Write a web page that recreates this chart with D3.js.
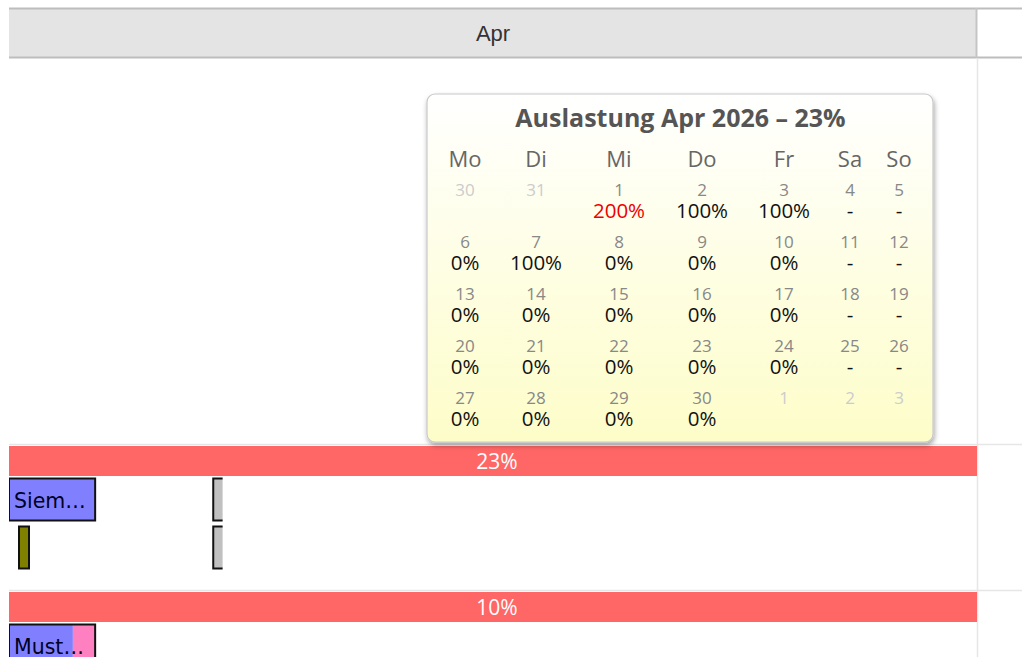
<!DOCTYPE html>
<html><head><meta charset="utf-8">
<script src="https://cdn.jsdelivr.net/npm/d3@7"></script>
<style>html,body{margin:0;padding:0;background:#fff;overflow:hidden}</style>
</head><body>
<script>
// ---------- data ----------
const months = ["Apr"];
const monthStart = [0];
const monthEnd = [30];

const groupNames = ["Siemens", "Mustermann"];
const groupLoad = [23, 10];

const taskGroup = [0, 0, 0, 0, 1, 1];
const taskLane  = [0, 1, 0, 1, 0, 0];
const taskStart = [0, 0.31, 6.33, 6.33, 0, 1.98];
const taskEnd   = [2.67, 0.62, 6.62, 6.62, 1.98, 2.67];
const taskColor = ["#8080ff", "#808000", "#c0c0c0", "#c0c0c0", "#8080ff", "#ff80c0"];
const taskLabel = ["Siem…", "", "", "", "Must…", ""];

const calTitle = "Auslastung Apr 2026 – 23%";
const weekdays = ["Mo", "Di", "Mi", "Do", "Fr", "Sa", "So"];
const calDayNums = [30,31,1,2,3,4,5, 6,7,8,9,10,11,12, 13,14,15,16,17,18,19, 20,21,22,23,24,25,26, 27,28,29,30,1,2,3];
const calInMonth = [0,0,1,1,1,1,1, 1,1,1,1,1,1,1, 1,1,1,1,1,1,1, 1,1,1,1,1,1,1, 1,1,1,1,0,0,0];
const calLoad = [null,null,200,100,100,"-","-", 0,100,0,0,0,"-","-", 0,0,0,0,0,"-","-", 0,0,0,0,0,"-","-", 0,0,0,0,null,null,null];

// ---------- layout ----------
const W = 1022, H = 657;
const svg = d3.select("body").append("svg").attr("width", W).attr("height", H);
const x = d3.scaleLinear().domain([0, 30]).range([9, 977]);
const groupY = d3.scaleLinear().domain([0, 1]).range([446, 592]);
const laneY = d3.scaleLinear().domain([0, 1]).range([32.5, 80.5]);

const defs = svg.append("defs");
defs.append("clipPath").attr("id", "chartClip").append("rect")
  .attr("x", 9).attr("y", 0).attr("width", 968).attr("height", H);

// header
svg.append("rect").attr("x", 9).attr("y", 8).attr("width", 967).attr("height", 49).attr("fill", "#e4e4e4");
svg.append("line").attr("x1", 9).attr("x2", W).attr("y1", 8.5).attr("y2", 8.5).attr("stroke", "#bdbdbd").attr("stroke-width", 2);
svg.append("line").attr("x1", 9).attr("x2", W).attr("y1", 57.5).attr("y2", 57.5).attr("stroke", "#bdbdbd").attr("stroke-width", 2);
svg.append("line").attr("x1", 976.5).attr("x2", 976.5).attr("y1", 8).attr("y2", 58).attr("stroke", "#c4c4c4").attr("stroke-width", 2);
svg.append("line").attr("x1", 977.5).attr("x2", 977.5).attr("y1", 58).attr("y2", H).attr("stroke", "#e6e6e6").attr("stroke-width", 1.5);

const hdr = svg.append("g").attr("clip-path", "url(#chartClip)");
hdr.selectAll("text.month").data(months).join("text")
  .attr("x", (d, i) => (x(monthStart[i]) + x(monthEnd[i])) / 2)
  .attr("y", 41)
  .attr("text-anchor", "middle")
  .attr("font-family", "'Liberation Sans Narrow','Liberation Sans',sans-serif")
  .attr("font-size", 22).attr("fill", "#333")
  .text(d => d);

// row separators
groupNames.forEach((g, i) => {
  svg.append("line").attr("x1", 9).attr("x2", W)
    .attr("y1", groupY(i) - 1.5).attr("y2", groupY(i) - 1.5)
    .attr("stroke", "#e6e6e6").attr("stroke-width", 1.5);
});

// utilization bars
const util = svg.append("g");
util.selectAll("rect").data(groupLoad).join("rect")
  .attr("x", x(0)).attr("width", x(30) - x(0))
  .attr("y", (d, i) => groupY(i)).attr("height", 30)
  .attr("fill", "#ff6666");
util.selectAll("text").data(groupLoad).join("text")
  .attr("x", (x(0) + x(30)) / 2 + 4).attr("y", (d, i) => groupY(i) + 23)
  .attr("text-anchor", "middle")
  .attr("font-family", "'Open Sans','Noto Sans',sans-serif")
  .attr("font-size", 21).attr("fill", "#fff")
  .text(d => d + "%");

// tasks
const tasks = d3.range(taskStart.length).map(i => ({
  g: taskGroup[i], lane: taskLane[i], s: taskStart[i], e: taskEnd[i], c: taskColor[i], l: taskLabel[i]
}));
const tg = svg.append("g").attr("clip-path", "url(#chartClip)");
tasks.forEach(d => {
  const x0 = x(d.s), x1 = x(d.e), y0 = groupY(d.g) + laneY(d.lane), h = 42;
  tg.append("rect").attr("x", x0).attr("y", y0).attr("width", x1 - x0).attr("height", h).attr("fill", d.c);
});
const outlines = d3.rollups(tasks.filter(d => d.c !== "#c0c0c0"), v => [d3.min(v, d => d.s), d3.max(v, d => d.e)], d => d.g + "-" + d.lane + "-" + (d.l || d.c === "#ff80c0" ? "m" : d.c));
tasks.forEach(d => {
  const x0 = x(d.s), x1 = x(d.e), y0 = groupY(d.g) + laneY(d.lane), h = 42;
  if (d.c === "#c0c0c0") {
    tg.append("path").attr("d", `M${x1},${y0} H${x0} V${y0 + h} H${x1}`)
      .attr("fill", "none").attr("stroke", "#111").attr("stroke-width", 2);
  }
});
outlines.forEach(([k, [s, e]]) => {
  const parts = k.split("-");
  const g = +parts[0], lane = +parts[1];
  const y0 = groupY(g) + laneY(lane);
  tg.append("rect").attr("x", x(s)).attr("y", y0).attr("width", x(e) - x(s)).attr("height", 42)
    .attr("fill", "none").attr("stroke", "#111").attr("stroke-width", 2);
});
tg.selectAll("text.task").data(tasks.filter(d => d.l)).join("text")
  .attr("x", d => x(d.s) + 5).attr("y", d => groupY(d.g) + laneY(d.lane) + 29)
  .attr("font-family", "'DejaVu Sans',sans-serif")
  .attr("font-size", 20.5).attr("fill", "#000022")
  .text(d => d.l);

// ---------- tooltip calendar ----------
const tipX = 427, tipY = 94, tipW = 506, tipH = 348;
const grad = defs.append("linearGradient").attr("id", "tipGrad").attr("x1", 0).attr("x2", 0).attr("y1", 0).attr("y2", 1);
grad.append("stop").attr("offset", "0%").attr("stop-color", "#ffffff");
grad.append("stop").attr("offset", "100%").attr("stop-color", "#fdfdc9");
const filt = defs.append("filter").attr("id", "shadow").attr("x", "-10%").attr("y", "-10%").attr("width", "120%").attr("height", "125%");
filt.append("feDropShadow").attr("dx", 1).attr("dy", 3).attr("stdDeviation", 2.5).attr("flood-color", "#000").attr("flood-opacity", 0.35);

const tip = svg.append("g");
tip.append("rect").attr("x", tipX).attr("y", tipY).attr("width", tipW).attr("height", tipH)
  .attr("rx", 8).attr("fill", "url(#tipGrad)").attr("stroke", "#c8c8c8").attr("stroke-width", 1.2)
  .attr("filter", "url(#shadow)");

const calFont = "'Open Sans','Noto Sans',sans-serif";
tip.append("text").attr("x", 680.5).attr("y", 127).attr("text-anchor", "middle")
  .attr("font-family", calFont).attr("font-weight", "bold").attr("font-size", 25).attr("fill", "#555")
  .text(calTitle);

const colX = d3.scaleOrdinal().domain(weekdays).range([465, 536, 619, 702, 784, 850, 899]);
const weekY = d3.scaleLinear().domain([0, 1]).range([189, 241]);

tip.selectAll("text.wd").data(weekdays).join("text")
  .attr("x", d => colX(d)).attr("y", 167).attr("text-anchor", "middle")
  .attr("font-family", calFont).attr("font-size", 22).attr("fill", "#666")
  .text(d => d);

const cells = calDayNums.map((n, i) => ({ n, wd: weekdays[i % 7], w: Math.floor(i / 7), inM: calInMonth[i], v: calLoad[i] }));
tip.selectAll("text.dn").data(cells).join("text")
  .attr("x", d => colX(d.wd)).attr("y", d => weekY(d.w) + 6.5).attr("text-anchor", "middle")
  .attr("font-family", calFont).attr("font-size", 17)
  .attr("fill", d => d.inM ? "#888" : "#ccc")
  .text(d => d.n);
tip.selectAll("text.val").data(cells.filter(d => d.v !== null)).join("text")
  .attr("x", d => colX(d.wd)).attr("y", d => weekY(d.w) + 29).attr("text-anchor", "middle")
  .attr("font-family", calFont).attr("font-size", 20.5)
  .attr("fill", d => (typeof d.v === "number" && d.v > 100) ? "#ee0000" : "#111")
  .text(d => typeof d.v === "number" ? d.v + "%" : d.v);
</script>
</body></html>
